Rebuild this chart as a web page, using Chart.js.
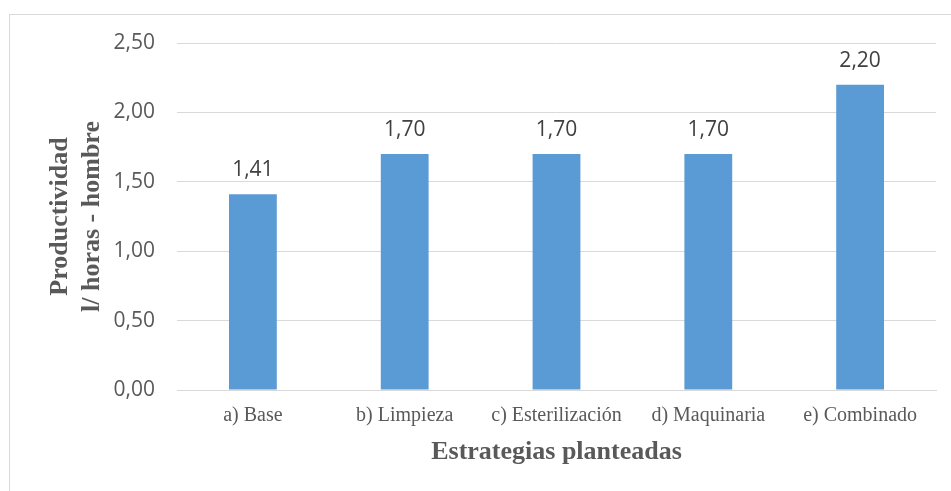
<!DOCTYPE html>
<html>
<head>
<meta charset="utf-8">
<script src="https://cdn.jsdelivr.net/npm/chart.js@4.4.1/dist/chart.umd.min.js"></script>
<style>
  html, body { margin: 0; padding: 0; background: #ffffff; overflow: hidden; }
  #wrap { position: relative; width: 951px; height: 491px; }
  #frame { position: absolute; left: 9px; top: 14px; width: 1000px; height: 600px; border: 1px solid #d9d9d9; box-sizing: border-box; }
  canvas { position: absolute; left: 0; top: 0; }
</style>
</head>
<body>
<div id="wrap">
  <div id="frame"></div>
  <canvas id="c" width="951" height="491"></canvas>
</div>
<script>
const categories = ['a) Base', 'b) Limpieza', 'c) Esterilización', 'd) Maquinaria', 'e) Combinado'];
const productividad = [1.41, 1.70, 1.70, 1.70, 2.20];
const yTitleLines = ['Productividad', 'l/ horas - hombre'];
const xTitle = 'Estrategias planteadas';

const fmt = v => v.toFixed(2).replace('.', ',');

// Value labels above each bar and the two axis titles
const annotate = {
  id: 'annotate',
  afterDatasetsDraw(chart) {
    const ctx = chart.ctx;
    const meta = chart.getDatasetMeta(0);
    ctx.save();
    ctx.fillStyle = '#404040';
    ctx.font = '21px "Open Sans"';
    ctx.textAlign = 'center';
    ctx.textBaseline = 'alphabetic';
    meta.data.forEach((bar, i) => {
      ctx.fillText(fmt(productividad[i]), bar.x, bar.y - 18);
    });

    ctx.fillStyle = '#595959';
    ctx.font = 'bold 26px "Liberation Serif"';
    ctx.textBaseline = 'middle';
    const area = chart.chartArea;
    ctx.fillText(xTitle, (area.left + area.right) / 2, 452);

    const cy = (area.top + area.bottom) / 2;
    const xs = [60, 92];
    yTitleLines.forEach((line, i) => {
      ctx.save();
      ctx.translate(xs[i], cy);
      ctx.rotate(-Math.PI / 2);
      ctx.fillText(line, 0, 0);
      ctx.restore();
    });
    ctx.restore();
  }
};

new Chart(document.getElementById('c'), {
  type: 'bar',
  data: {
    labels: categories,
    datasets: [{
      data: productividad,
      backgroundColor: '#5b9bd5',
      barPercentage: 0.63,
      categoryPercentage: 0.5
    }]
  },
  options: {
    responsive: false,
    animation: false,
    devicePixelRatio: 1,
    layout: { padding: { top: 43, right: 15, left: 0, bottom: 0 } },
    plugins: { legend: { display: false }, tooltip: { enabled: false } },
    scales: {
      x: {
        grid: { display: false, drawTicks: false },
        border: { color: '#d9d9d9', width: 1 },
        ticks: { color: '#595959', font: { family: 'Liberation Serif', size: 20 }, padding: 14, maxRotation: 0, autoSkip: false },
        afterFit(s) { s.height = 101; }
      },
      y: {
        min: 0,
        max: 2.5,
        ticks: { stepSize: 0.5, color: '#595959', font: { family: 'Open Sans', size: 21 }, padding: 22, callback: v => fmt(v) },
        grid: { color: '#d9d9d9', lineWidth: 1, drawTicks: false },
        border: { display: false },
        afterFit(s) { s.width = 177; }
      }
    }
  },
  plugins: [annotate]
});
</script>
</body>
</html>
